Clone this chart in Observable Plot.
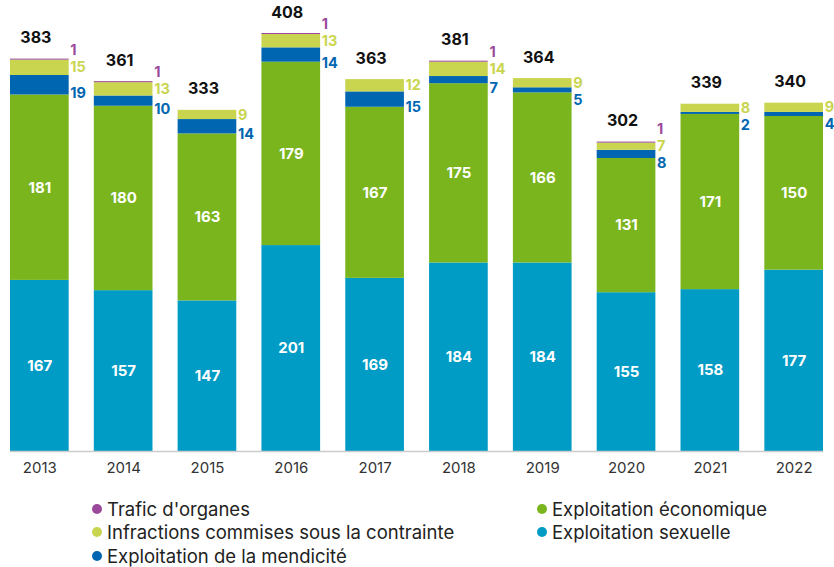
<!DOCTYPE html>
<html><head><meta charset="utf-8">
<script src="https://cdn.jsdelivr.net/npm/d3@7"></script>
<script src="https://cdn.jsdelivr.net/npm/@observablehq/plot@0.6"></script>
<style>
body{margin:0;background:#fff;font-family:Inter,"Noto Sans",sans-serif;}
#legend{display:grid;grid-auto-flow:column;grid-template-rows:repeat(3,23.5px);grid-template-columns:445px 300px;margin:17px 0 0 92px;font-size:18.5px;color:#222;}
#legend div{display:flex;align-items:center;white-space:nowrap;}
#legend span.dot{display:inline-block;width:10px;height:10px;border-radius:50%;margin-right:5px;}
</style></head><body>
<div id="chart"></div>
<div id="legend"></div>
<script>
const years = ["2013","2014","2015","2016","2017","2018","2019","2020","2021","2022"];
const sexuelle = [167,157,147,201,169,184,184,155,158,177];
const economique = [181,180,163,179,167,175,166,131,171,150];
const mendicite = [19,10,14,14,15,7,5,8,2,4];
const contrainte = [15,13,9,13,12,14,9,7,8,9];
const organes = [1,1,0,1,0,1,0,1,0,0];
const totals = [383,361,333,408,363,381,364,302,339,340];

const seriesNames = ["Exploitation sexuelle","Exploitation économique","Exploitation de la mendicité","Infractions commises sous la contrainte","Trafic d'organes"];
const seriesValues = [sexuelle, economique, mendicite, contrainte, organes];
const colors = ["#009CC5","#7AB51E","#0066B1","#C9D54F","#9B4A9B"];

const H = 480, MT = 33, MB = 29, YMAX = 408;
const ppu = (H - MT - MB) / YMAX; // pixels per unit, for label spacing
const GAP = 17;

const rows = [];
years.forEach((yr, i) => {
  let acc = 0;
  seriesNames.forEach((s, k) => {
    const v = seriesValues[k][i];
    rows.push({year: yr, series: s, k, i, value: v, y1: acc, y2: acc + v, mid: acc + v / 2});
    acc += v;
  });
});
// side-label positions: contrainte at its middle, neighbours pushed apart
rows.forEach(d => {
  if (d.k < 2) { d.ly = d.mid; return; }
  const c = rows.find(r => r.i === d.i && r.k === 3);
  if (d.k === 3) d.ly = d.mid;
  if (d.k === 2) d.ly = Math.min(d.mid - 8 / ppu, c.mid - GAP / ppu);
  if (d.k === 4) d.ly = Math.max(d.mid + 9 / ppu, c.mid + GAP / ppu);
});
const totalRows = years.map((yr, i) => ({year: yr, total: totals[i]}));

const inner = rows.filter(d => d.k < 2);
const side = rows.filter(d => d.k >= 2 && d.value > 0);

const chart = Plot.plot({
  width: 834, height: H,
  marginLeft: 10, marginRight: 11, marginTop: MT, marginBottom: MB,
  style: {fontFamily: "Inter, 'Noto Sans', sans-serif"},
  x: {domain: years, paddingInner: 0.3, paddingOuter: 0, round: false, label: null},
  y: {domain: [0, YMAX], axis: null},
  color: {domain: seriesNames, range: colors},
  marks: [
    Plot.barY(rows, {x: "year", y1: "y1", y2: "y2", fill: "series", inset: 0}),
    Plot.ruleY([0], {stroke: "#cccccc", strokeWidth: 1.5}),
    Plot.axisX({tickSize: 0, tickPadding: 11, fontSize: 15, fill: "#333"}),
    Plot.text(inner, {x: "year", y: "mid", text: d => String(d.value), fill: "white", fontWeight: "bold", fontSize: 15}),
    ...[2,3,4].map(k => Plot.text(side.filter(d => d.k === k), {
      x: "year", y: "ly", text: d => String(d.value), fill: colors[k],
      fontWeight: "bold", fontSize: 14.5, textAnchor: "start", dx: 30.5
    })),
    Plot.text(totalRows, {x: "year", y: "total", text: d => String(d.total), fill: "#111", fontWeight: "bold", fontSize: 16, dy: -21, dx: -4})
  ]
});
document.getElementById("chart").appendChild(chart);

const legendOrder = [4, 3, 2, 1, 0];
const lg = document.getElementById("legend");
legendOrder.forEach(k => {
  const div = document.createElement("div");
  div.innerHTML = `<span class="dot" style="background:${colors[k]}"></span>${seriesNames[k]}`;
  lg.appendChild(div);
});
</script>
</body></html>
